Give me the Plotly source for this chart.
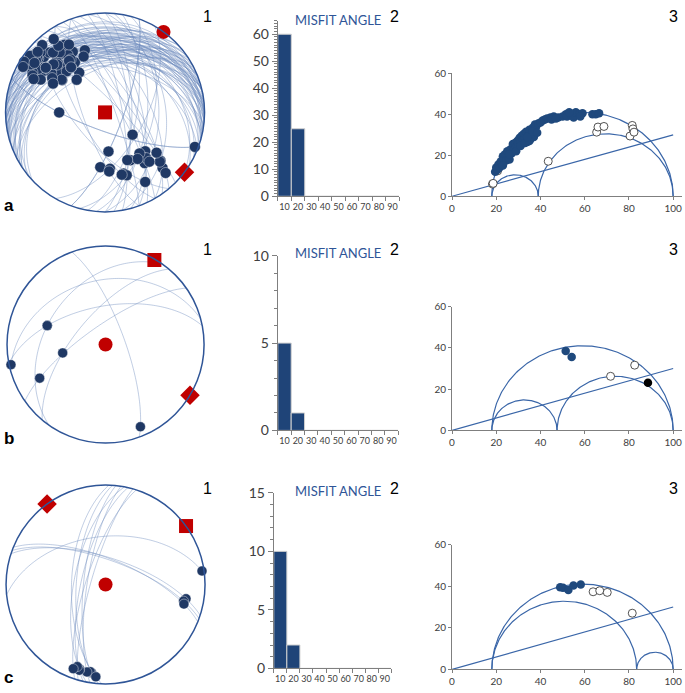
import numpy as np
import plotly.graph_objects as go

W, H = 685, 693

# ---------------- DATA ----------------
# Row a: fault planes (dip direction, dip) and slip-line trend (deg)
a_dipdir = [337,342,347,352,357,2,7,12,327,332,322,345,349,355,359,5,9,15,19,335,
            340,343,351,317,325,353,1,22,27,333,346,354,358,4,10,319,329,338,348,356,
            13,17,32,342,2,7,352,17,347,22,12,37,327,337,357,332,7,347,15,2,
            100,70,65,60,80,60,50,110,90,85,200,200,75,95,110,55,120,70,250,240,90,105,45,230,80]
a_dip = [32,37,27,42,25,35,22,39,47,29,42,52,19,32,45,27,33,25,42,37,
         23,45,35,39,33,49,21,47,37,55,41,29,39,43,30,27,43,49,24,37,
         45,32,42,17,15,12,10,17,39,27,21,32,22,42,47,45,52,33,37,27,
         64,65,73,79,39,54,72,75,68,70,75,75,60,55,75,66,58,82,72,70,45,50,80,65,76]
a_trend = [312,317,307,322,312,319,307,325,307,302,305,327,309,303,329,317,321,313,332,325,
           299,311,342,302,315,317,305,327,329,319,306,323,313,327,303,307,323,307,319,307,
           339,309,325,307,310,307,317,302,325,312,299,325,297,303,297,299,323,295,305,332,
           129,134,140,142,131,134,135,185,163,161,111,270,138,140,175,132,175,152,176,165,138,145,128,150,155]
a_axes_trend = [36, 0, 127]     # sigma1, sigma2, sigma3
a_axes_plunge = [0, 90, 0]

b_dipdir = [70, 349, 305, 325, 310, 345]
b_dip = [74, 58, 39, 74, 65, 35]
b_trend = [157, 288, 288, 243, 259, 258]
b_axes_trend = [0, 30, 121]
b_axes_plunge = [90, 1, 0]

c_dipdir = [354, 18, 20, 22, 274, 276, 279, 281, 283, 286, 272, 288]
c_dip = [50, 68, 70, 69, 66, 72, 75, 64, 70, 78, 62, 74]
c_trend = [82, 100, 102, 104, 189, 190, 192, 197, 197, 199, 186, 201]
c_axes_trend = [0, 54, 324]
c_axes_plunge = [90, 0, 0]

# Misfit angle histograms
bin_labels = ["10", "20", "30", "40", "50", "60", "70", "80", "90"]
bin_centers = [5, 15, 25, 35, 45, 55, 65, 75, 85]
a_counts = [60, 25, 0, 0, 0, 0, 0, 0, 0]
b_counts = [5, 1, 0, 0, 0, 0, 0, 0, 0]
c_counts = [10, 2, 0, 0, 0, 0, 0, 0, 0]

# Mohr diagrams: principal stresses (normalised) and friction coefficient
a_sigma = [100, 39, 18]
b_sigma = [100, 47.5, 18]
c_sigma = [100, 83.5, 18]
friction_mu = 0.3

a_fill_n = [19.5,20,20.5,21,21.5,22,22.5,23,23.5,24,24.5,25,25.5,26,26.5,27,27.5,28,28.5,29,
            29.5,30,30.5,31,31.5,32,32.5,33,33.5,34,34.5,35,35.5,36,36.5,37,37.5,38,39,41,
            42,43,44.5,46,48,50,51.5,52,54,55,56,57.5,59,63.5,65,66.5,
            23,26,29,31,33,35,34,36.5,38.5,40,45,47,53,58]
a_fill_s = [12,14,13,15.5,14,17,16,19.5,18,20.5,17.5,22,19,18,23,21,25.5,23,26,24,
            27,25.5,28.5,27,29.5,27.5,30.5,28.5,31.5,26.5,30,32.5,28,30,33.5,29,35,34,35.5,37,
            37.5,38,38.5,39,38.5,39,40,39,39.5,38.5,41,40,40.5,40,40,40.5,
            15,20.5,22,24.5,26,27,29,31.5,31,36,37.5,38,41,39]
a_open_n = [18.3, 18.6, 20.6, 43.5, 65.4, 66, 68.7, 80.5, 81.5, 81.8, 82.3]
a_open_s = [6.0, 6.3, 12.4, 17.1, 31.3, 33.8, 34.1, 29.4, 34.6, 32.9, 31.3]

b_fill_n = [51.4, 54.1]
b_fill_s = [38.5, 35.6]
b_open_n = [71.7, 82.6]
b_open_s = [26.2, 31.6]
b_black_n = [88.6]
b_black_s = [23.1]

c_fill_n = [48.9, 50.2, 52.6, 54.9, 58.2]
c_fill_s = [39.5, 39.2, 38.1, 40.3, 40.8]
c_open_n = [63.8, 66.8, 70.2, 81.5]
c_open_s = [37.3, 37.8, 37.0, 27.0]

# ---------------- STYLE ----------------
NAVY = "#1f3864"
BAR = "#1f4478"
RED = "#c00000"
ARC = "rgba(110,140,190,0.55)"
FRAME = "#2f5597"
MOHR = "#3a66a8"


def ea_r(plunge):
    p = np.radians(np.asarray(plunge, dtype=float))
    return np.sqrt(2) * np.sin((np.pi / 2 - p) / 2)


def arcs(dipdirs, dips, n=120):
    rr, tt = [], []
    t = np.linspace(0, np.pi, n)
    for dd, dp in zip(dipdirs, dips):
        D, d = np.radians(dd), np.radians(dp)
        sN, sE = np.cos(D - np.pi / 2), np.sin(D - np.pi / 2)
        dN, dE, dD = np.cos(d) * np.cos(D), np.cos(d) * np.sin(D), np.sin(d)
        vN = sN * np.cos(t) + dN * np.sin(t)
        vE = sE * np.cos(t) + dE * np.sin(t)
        vD = dD * np.sin(t)
        tr = np.degrees(np.arctan2(vE, vN)) % 360
        pl = np.degrees(np.arcsin(np.clip(vD, -1, 1)))
        rr += list(ea_r(pl)) + [None]
        tt += list(tr) + [None]
    return rr, tt


def lineations(dipdirs, dips, trends):
    dd = np.radians(np.asarray(dipdirs, float))
    dp = np.radians(np.asarray(dips, float))
    tr = np.radians(np.asarray(trends, float))
    pl = np.degrees(np.arctan(np.tan(dp) * np.cos(tr - dd)))
    return ea_r(pl), list(trends)


fig = go.Figure()

rows = [
    ("polar", a_dipdir, a_dip, a_trend, a_axes_trend, a_axes_plunge, 11),
    ("polar2", b_dipdir, b_dip, b_trend, b_axes_trend, b_axes_plunge, 10),
    ("polar3", c_dipdir, c_dip, c_trend, c_axes_trend, c_axes_plunge, 10),
]
for sp, dd, dp, tr, st, spl, msize in rows:
    r, th = arcs(dd, dp)
    fig.add_trace(go.Scatterpolar(r=r, theta=th, mode="lines", subplot=sp,
                                  line=dict(color=ARC, width=0.8), hoverinfo="skip",
                                  showlegend=False))
    lr, lt = lineations(dd, dp, tr)
    fig.add_trace(go.Scatterpolar(r=lr, theta=lt, mode="markers", subplot=sp, cliponaxis=False,
                                  marker=dict(color=NAVY, size=msize,
                                              line=dict(color="rgba(255,255,255,0.6)", width=0.7)),
                                  showlegend=False))
    fig.add_trace(go.Scatterpolar(r=ea_r(spl), theta=st, mode="markers", subplot=sp, cliponaxis=False,
                                  marker=dict(color=RED, size=[14, 14, 15], opacity=1,
                                              symbol=["circle", "square", "diamond"],
                                              line=dict(width=0)),
                                  showlegend=False))

# Histograms
for i, counts in enumerate([a_counts, b_counts, c_counts]):
    ax = ["", "3", "5"][i]
    fig.add_trace(go.Bar(x=bin_centers, y=counts, width=10, xaxis="x" + ax, yaxis="y" + ax,
                         marker=dict(color=BAR, line=dict(color="#d0d0d0", width=1)),
                         showlegend=False))

# Mohr diagrams
mohr = [
    ("2", a_sigma, a_fill_n, a_fill_s, a_open_n, a_open_s, None, None),
    ("4", b_sigma, b_fill_n, b_fill_s, b_open_n, b_open_s, b_black_n, b_black_s),
    ("6", c_sigma, c_fill_n, c_fill_s, c_open_n, c_open_s, None, None),
]
phi = np.linspace(0, np.pi, 200)
for ax, sig, fn, fs, on, os_, bn, bs in mohr:
    s1, s2, s3 = sig
    xs, ys = [], []
    for lo, hi in [(s3, s1), (s3, s2), (s2, s1)]:
        c, rad = (lo + hi) / 2, (hi - lo) / 2
        xs += list(c + rad * np.cos(phi)) + [None]
        ys += list(rad * np.sin(phi)) + [None]
    fig.add_trace(go.Scatter(x=xs, y=ys, mode="lines", xaxis="x" + ax, yaxis="y" + ax,
                             line=dict(color=MOHR, width=1.2), showlegend=False, hoverinfo="skip"))
    fig.add_trace(go.Scatter(x=[0, s1], y=[0, friction_mu * s1], mode="lines",
                             xaxis="x" + ax, yaxis="y" + ax,
                             line=dict(color=MOHR, width=1.2), showlegend=False))
    fig.add_trace(go.Scatter(x=on, y=os_, mode="markers", xaxis="x" + ax, yaxis="y" + ax,
                             cliponaxis=False,
                             marker=dict(color="white", size=8, line=dict(color="#404040", width=0.9)),
                             showlegend=False))
    fig.add_trace(go.Scatter(x=fn, y=fs, mode="markers", xaxis="x" + ax, yaxis="y" + ax,
                             cliponaxis=False,
                             marker=dict(color="#1f497d", size=8.5, line=dict(width=0)),
                             showlegend=False))
    if bn:
        fig.add_trace(go.Scatter(x=bn, y=bs, mode="markers", xaxis="x" + ax, yaxis="y" + ax,
                                 marker=dict(color="black", size=8.5), showlegend=False))


def fx(p):
    return p / W


def fy(p):
    return 1 - p / H


polar_base = dict(
    bgcolor="white",
    angularaxis=dict(rotation=90, direction="clockwise", showline=True, linecolor=FRAME,
                     linewidth=1.5, showgrid=False, showticklabels=False, ticks=""),
    radialaxis=dict(visible=False, range=[0, 1], showgrid=False),
)
layout = dict(
    width=W, height=H, autosize=False, margin=dict(l=0, r=0, t=0, b=0),
    paper_bgcolor="white", plot_bgcolor="white", showlegend=False,
    polar=dict(domain=dict(x=[fx(0.5), fx(204.5)], y=[fy(208), fy(4)]), **polar_base),
    polar2=dict(domain=dict(x=[fx(2), fx(204)], y=[fy(445), fy(243)]), **polar_base),
    polar3=dict(domain=dict(x=[fx(1), fx(205)], y=[fy(692), fy(488)]), **polar_base),
)

LBL = dict(family="Lato, Arial, sans-serif", color="#404040")
hist_specs = [("", [276, 398], [192, 12], [0, 65], 10),
              ("3", [276, 397], [432, 253], [0, 10], 5),
              ("5", [272, 390], [676, 496], [0, 15], 5)]
for ax, xd, yd, yr, dt in hist_specs:
    layout["xaxis" + ax] = dict(domain=[fx(xd[0]), fx(xd[1])], range=[0, 90], anchor="y" + ax,
                                tickmode="array", tickvals=bin_centers, ticktext=bin_labels,
                                ticks="", showline=True, linecolor="#7f7f7f", linewidth=1,
                                showgrid=False, zeroline=False,
                                tickfont=dict(size=9, **LBL), ticklabelstandoff=2,
                                minor=dict(tickmode="array", tickvals=list(range(0, 100, 10)),
                                           ticks="outside", ticklen=4, tickcolor="#7f7f7f"))
    layout["yaxis" + ax] = dict(domain=[fy(yd[0]), fy(yd[1])], range=yr, anchor="x" + ax,
                                dtick=dt, tick0=0, ticks="outside", ticklen=5, tickcolor="#7f7f7f",
                                showline=True, linecolor="#7f7f7f", linewidth=1,
                                showgrid=False, zeroline=False,
                                tickfont=dict(size=14, **LBL),
                                minor=dict(dtick=1, ticks="outside", ticklen=3, tickcolor="#7f7f7f"))

mohr_specs = [("2", [192, 66]), ("4", [432, 305]), ("6", [677, 549])]
for ax, yd in mohr_specs:
    layout["xaxis" + ax] = dict(domain=[fx(451), fx(682)], range=[0, 104], anchor="y" + ax,
                                tickmode="array", tickvals=[0, 20, 40, 60, 80, 100],
                                ticks="outside", ticklen=3, tickcolor="#7f7f7f",
                                showline=True, linecolor="#7f7f7f", linewidth=1,
                                showgrid=False, zeroline=False, tickfont=dict(size=10, **LBL))
    layout["yaxis" + ax] = dict(domain=[fy(yd[0]), fy(yd[1])], range=[0, 60], anchor="x" + ax,
                                tickmode="array", tickvals=[0, 20, 40, 60],
                                ticks="outside", ticklen=3, tickcolor="#7f7f7f",
                                showline=True, linecolor="#7f7f7f", linewidth=1,
                                showgrid=False, zeroline=False, tickfont=dict(size=10, **LBL))

ann = []


def text(x, y, s, size, color="black", bold=False, family="Arial, Liberation Sans, sans-serif"):
    ann.append(dict(x=fx(x), y=fy(y), xref="paper", yref="paper", text=("<b>%s</b>" % s) if bold else s,
                    showarrow=False, xanchor="center", yanchor="middle",
                    font=dict(size=size, color=color, family=family)))


for (y1, ymis, row) in [(8, 11, "a"), (247, 250, "b"), (492, 494, "c")]:
    text(205, y1, "1", 16)
    text(393, y1, "2", 16)
    text(673, y1, "3", 16)
    text(336, ymis, "MISFIT ANGLE", 13, color=FRAME, family="Lato, Arial, sans-serif")
ann_rows = [(6, 201, "a"), (6, 440, "b"), (6, 685, "c")]
for x, y, s in ann_rows:
    text(x, y, s, 17, bold=True)
layout["annotations"] = ann

fig.update_layout(**layout)
fig.write_html("out.html", config={"displayModeBar": False},
               post_script="document.body.style.margin='0px';document.body.style.overflow='hidden';")
